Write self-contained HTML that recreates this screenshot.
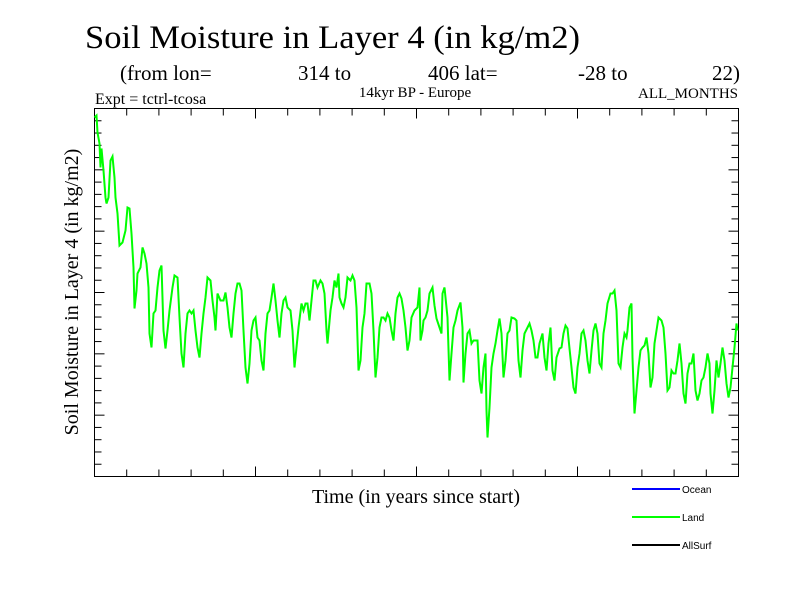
<!DOCTYPE html>
<html><head><meta charset="utf-8"><style>
body{margin:0;background:#fff;}
svg{display:block;font-family:"Liberation Serif",serif;}
</style></head><body>
<svg width="800" height="600" viewBox="0 0 800 600">
<rect width="800" height="600" fill="#fff"/>
<text x="85" y="48" font-size="33" textLength="495" lengthAdjust="spacingAndGlyphs">Soil Moisture in Layer 4 (in kg/m2)</text>
<g font-size="21">
<text x="120" y="80">(from lon=</text><text x="298" y="80">314 to</text><text x="428" y="80">406 lat=</text><text x="578" y="80">-28 to</text><text x="712" y="80">22)</text>
</g>
<text x="95" y="104" font-size="16">Expt = tctrl-tcosa</text>
<text x="415" y="97" font-size="15" text-anchor="middle">14kyr BP - Europe</text>
<text x="738" y="98" font-size="15" text-anchor="end">ALL_MONTHS</text>
<text transform="translate(78,292) rotate(-90)" font-size="20" text-anchor="middle">Soil Moisture in Layer 4 (in kg/m2)</text>
<text x="416" y="503" font-size="20" text-anchor="middle">Time (in years since start)</text>
<g id="ticks"></g>
<rect x="94.5" y="108.5" width="644" height="368" fill="none" stroke="#000" stroke-width="1"/>
<polyline id="land" fill="none" stroke="#00ff00" stroke-width="2"/>
<g font-family="Liberation Sans, sans-serif" font-size="10">
<g><line x1="632" y1="489" x2="680" y2="489" stroke="#0000ff" stroke-width="2"/><text x="682" y="493">Ocean</text></g>
<g><line x1="632" y1="517" x2="680" y2="517" stroke="#00ff00" stroke-width="2"/><text x="682" y="521">Land</text></g>
<g><line x1="632" y1="545" x2="680" y2="545" stroke="#000" stroke-width="2"/><text x="682" y="549">AllSurf</text></g>
</g>
</svg>
<script>
const years=[0,2,3,5,6,7,9,11,12,14,16,18,20,21,23,25,28,31,33,35,37,39,40,42,43,46,48,50,52,54,55,57,59,61,63,65,67,69,71,73,75,78,80,83,85,87,89,91,93,95,97,99,101,103,105,107,109,111,113,116,118,120,121,123,126,129,131,133,135,137,139,141,143,145,147,149,151,153,155,157,159,161,163,165,167,169,171,173,175,177,179,181,183,185,187,189,191,193,196,198,200,202,204,207,209,211,213,215,219,221,223,226,228,230,232,233,236,238,240,242,244,245,247,249,251,253,256,258,260,262,264,266,268,270,272,275,277,279,281,283,285,287,289,291,293,295,297,299,301,303,305,307,309,311,313,315,317,320,323,325,326,328,329,331,333,335,338,340,342,345,347,348,350,353,355,357,359,361,363,366,368,369,371,373,375,377,379,381,383,385,387,389,391,392,393,395,397,399,401,403,405,407,409,411,413,415,417,420,422,424,426,428,430,433,435,437,439,441,443,445,448,450,452,454,456,458,460,462,465,467,469,471,473,475,477,479,481,483,485,487,489,491,493,495,497,499,501,503,505,507,509,511,513,516,518,520,522,524,526,528,530,532,533,535,537,538,540,542,544,546,548,550,552,554,556,558,560,562,564,567,569,571,573,575,577,579,581,583,585,587,589,591,593,595,597,599,601,603,605,607,609,611,613,615,616,618,620,622,624,626,628,630,632,634,636,638,640,642,643];
const landValues=[359,361,344,333,309,328,306,279,273,279,316,320,299,279,263,231,234,246,269,268,243,209,168,186,203,209,229,223,213,189,143,129,163,166,189,206,211,146,128,146,166,189,201,199,159,123,109,143,163,166,163,166,146,129,119,143,163,179,199,196,176,159,146,183,176,176,184,169,149,139,163,183,193,193,186,146,109,93,113,146,156,159,139,136,116,106,143,163,166,179,193,176,156,139,163,176,179,169,166,146,109,129,149,173,166,173,173,156,196,196,189,196,193,183,146,133,166,179,196,189,203,179,173,169,179,199,196,201,196,169,106,116,149,163,193,193,183,146,99,119,149,159,159,156,163,159,146,136,163,179,183,178,166,149,126,136,159,166,169,189,136,146,156,159,166,183,189,171,158,149,143,183,189,159,96,123,149,156,166,174,149,94,123,143,146,133,136,136,136,96,83,109,123,66,39,69,109,123,133,146,158,143,99,116,143,146,159,158,156,116,99,126,143,149,153,146,136,119,119,133,143,119,106,133,149,106,96,119,128,129,143,151,148,128,109,89,83,109,123,143,146,136,116,103,126,146,153,143,113,109,143,156,173,183,183,186,166,113,109,129,143,139,146,169,173,119,63,86,109,126,129,131,139,123,89,99,133,146,159,156,149,123,86,89,106,103,103,116,133,113,83,73,103,113,113,123,86,76,83,96,99,109,123,113,83,63,86,116,99,113,129,116,93,79,89,109,129,153,146];
const xDomain=[0,644], yDomain=[0,368];
const X0=94.5,X1=738.5,Y0=476.5,Y1=108.5;
function sx(v){return X0+(v-xDomain[0])/(xDomain[1]-xDomain[0])*(X1-X0);}
function sy(v){return Y0-(v-yDomain[0])/(yDomain[1]-yDomain[0])*(Y0-Y1);}
const line=document.getElementById('land');
line.setAttribute('points',years.map((t,i)=>sx(t).toFixed(1)+','+sy(landValues[i]).toFixed(1)).join(' '));
const tg=document.getElementById('ticks');
const NS='http://www.w3.org/2000/svg';
function tick(x1,y1,x2,y2){const l=document.createElementNS(NS,'line');
l.setAttribute('x1',x1);l.setAttribute('y1',y1);l.setAttribute('x2',x2);l.setAttribute('y2',y2);
l.setAttribute('stroke','#000');l.setAttribute('stroke-width','1');


tg.appendChild(l);}
for(let i=1;i<20;i++){const x=X0+i*(X1-X0)/20;const L=(i%5==0)?10:7;tick(x,Y1,x,Y1+L);tick(x,Y0,x,Y0-L);}
for(let i=1;i<30;i++){const y=Y0-i*(Y0-Y1)/30;const L=(i%5==0)?10:7;tick(X0,y,X0+L,y);tick(X1,y,X1-L,y);}
</script>
</body></html>
